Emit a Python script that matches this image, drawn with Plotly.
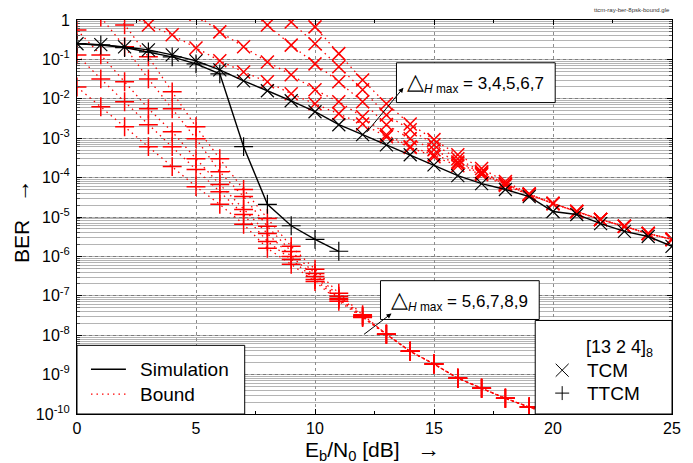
import plotly.graph_objects as go

# ---------------------------------------------------------------- data
# Eb/N0 grid in dB
snr_all = list(range(0, 26))

# simulated BER (black, solid)
tcm_sim = [0.25, 0.237, 0.207, 0.174, 0.13, 0.092, 0.054, 0.0286, 0.016, 0.0089,
           0.0047, 0.0022, 0.00123, 0.00068, 0.00038, 0.00021, 0.000112, 7.0e-5,
           5.0e-5, 3.3e-5, 1.38e-5, 1.16e-5, 6.8e-6, 4.3e-6, 3.2e-6, 1.8e-6]
ttcm_sim_snr = list(range(0, 12))
ttcm_sim = [0.25, 0.233, 0.2, 0.155, 0.116, 0.077, 0.043, 6.1e-4, 2.1e-5, 6.0e-6,
            2.7e-6, 1.35e-6]

# union bounds for TCM, Delta_H max = 3..7 (red, dotted, x markers)
tcm_b3_snr = list(range(2, 26))
tcm_b3 = [1.6, 0.75, 0.42, 0.195, 0.092, 0.048, 0.027, 0.0134, 0.0075, 0.0042,
          0.0023, 0.00109, 0.00058, 0.00034, 0.0002, 1.19e-4, 6.3e-5, 3.7e-5,
          2.2e-5, 1.38e-5, 8.6e-6, 5.8e-6, 3.8e-6, 2.7e-6]
tcm_b4_snr = list(range(5, 26))
tcm_b4 = [1.4, 0.5, 0.21, 0.086, 0.041, 0.0169, 0.0084, 0.0035, 0.00123, 0.00061,
          0.00038, 0.00023, 1.26e-4, 6.7e-5, 3.7e-5, 2.2e-5, 1.38e-5, 8.6e-6,
          5.8e-6, 3.8e-6, 2.7e-6]
tcm_b5_snr = list(range(7, 26))
tcm_b5 = [2.1, 0.75, 0.23, 0.077, 0.027, 0.0084, 0.0022, 0.00097, 0.00051, 0.00025,
          1.34e-4, 6.7e-5, 3.7e-5, 2.2e-5, 1.38e-5, 8.6e-6, 5.8e-6, 3.8e-6, 2.7e-6]
tcm_b6_snr = list(range(8, 26))
tcm_b6 = [2.9, 0.89, 0.25, 0.065, 0.0169, 0.0039, 0.00164, 0.00068, 0.0003, 1.4e-4,
          7.0e-5, 3.8e-5, 2.2e-5, 1.38e-5, 8.6e-6, 5.8e-6, 3.8e-6, 2.7e-6]
tcm_b7_snr = list(range(9, 26))
tcm_b7 = [2.9, 0.67, 0.14, 0.03, 0.0075, 0.0023, 0.00092, 0.00038, 1.7e-4, 7.9e-5,
          3.9e-5, 2.2e-5, 1.38e-5, 8.6e-6, 5.8e-6, 3.8e-6, 2.7e-6]

# union bounds for TTCM, Delta_H max = 5..9 (red, dotted, + markers)
ttcm_b5_snr = list(range(0, 21))
ttcm_b5 = [0.02, 0.0063, 0.00195, 0.00061, 0.00019, 5.9e-5, 2.1e-5, 6.5e-6, 1.6e-6,
           6.3e-7, 2.3e-7, 7.3e-8, 2.8e-8, 1.06e-8, 3.9e-9, 1.85e-9, 8.1e-10,
           4.5e-10, 2.5e-10, 1.5e-10, 9.4e-11]
ttcm_b6_snr = list(range(0, 21))
ttcm_b6 = [0.13, 0.032, 0.0084, 0.0022, 0.00061, 0.00016, 4.4e-5, 1.16e-5, 2.4e-6,
           8.4e-7, 2.6e-7, 8.1e-8, 2.9e-8, 1.06e-8, 3.9e-9, 1.85e-9, 8.1e-10,
           4.5e-10, 2.5e-10, 1.5e-10, 9.4e-11]
ttcm_b7_snr = list(range(0, 21))
ttcm_b7 = [0.56, 0.13, 0.027, 0.0056, 0.00146, 0.0003, 6.7e-5, 1.55e-5, 3.8e-6,
           1.0e-6, 3.1e-7, 8.6e-8, 3.0e-8, 1.06e-8, 3.9e-9, 1.85e-9, 8.1e-10,
           4.5e-10, 2.5e-10, 1.5e-10, 9.4e-11]
ttcm_b8_snr = list(range(1, 21))
ttcm_b8 = [1.19, 0.21, 0.032, 0.0056, 0.00097, 0.00014, 3.3e-5, 5.8e-6, 1.34e-6,
           3.7e-7, 9.7e-8, 3.1e-8, 1.06e-8, 3.9e-9, 1.85e-9, 8.1e-10, 4.5e-10,
           2.5e-10, 1.5e-10, 9.4e-11]
ttcm_b9_snr = list(range(1, 21))
ttcm_b9 = [5.1, 0.75, 0.116, 0.015, 0.00195, 0.0003, 5.0e-5, 9.2e-6, 1.8e-6, 4.7e-7,
           1.16e-7, 3.3e-8, 1.06e-8, 3.9e-9, 1.85e-9, 8.1e-10, 4.5e-10, 2.5e-10,
           1.5e-10, 9.4e-11]

# axis ticks
x_ticks = [0, 5, 10, 15, 20, 25]
y_exponents = list(range(-10, 1))
y_ticks = [10.0 ** e for e in y_exponents]
y_ticktext = ["1" if e == 0 else "10<sup>%d</sup>" % e for e in y_exponents]

# ---------------------------------------------------------------- figure
W, H = 693, 463
ML, MR, MT, MB = 77, 20, 18, 49
PW, PH = W - ML - MR, H - MT - MB
FONT = "Liberation Sans, Arial, Helvetica, sans-serif"
RED = "#ff0000"


def px(x):
    return (x - ML) / PW


def py(y):
    return (H - MB - y) / PH


fig = go.Figure()

red_line = dict(color=RED, width=1.3, dash="1.5px,4px")
bounds_tcm = [(tcm_b3_snr, tcm_b3), (tcm_b4_snr, tcm_b4), (tcm_b5_snr, tcm_b5),
              (tcm_b6_snr, tcm_b6), (tcm_b7_snr, tcm_b7)]
bounds_ttcm = [(ttcm_b5_snr, ttcm_b5), (ttcm_b6_snr, ttcm_b6), (ttcm_b7_snr, ttcm_b7),
               (ttcm_b8_snr, ttcm_b8), (ttcm_b9_snr, ttcm_b9)]

for snr, ber in bounds_ttcm:
    fig.add_trace(go.Scatter(
        x=snr, y=ber, mode="lines+markers", line=red_line,
        marker=dict(symbol="cross-thin", size=13.5, color=RED,
                    line=dict(color=RED, width=1.5))))
for snr, ber in bounds_tcm:
    fig.add_trace(go.Scatter(
        x=snr, y=ber, mode="lines+markers", line=red_line,
        marker=dict(symbol="x-thin", size=13, color=RED,
                    line=dict(color=RED, width=1.5))))

fig.add_trace(go.Scatter(
    x=snr_all, y=tcm_sim, mode="lines+markers",
    line=dict(color="black", width=1.4),
    marker=dict(symbol="x-thin", size=13, color="black",
                line=dict(color="black", width=1.2))))
fig.add_trace(go.Scatter(
    x=ttcm_sim_snr, y=ttcm_sim, mode="lines+markers",
    line=dict(color="black", width=1.4),
    marker=dict(symbol="cross-thin", size=13.5, color="black",
                line=dict(color="black", width=1.2))))

fig.update_layout(
    width=W, height=H,
    margin=dict(l=ML, r=MR, t=MT, b=MB),
    paper_bgcolor="white", plot_bgcolor="white",
    showlegend=False,
    font=dict(family=FONT, color="black"),
)

fig.update_xaxes(
    range=[0, 25], tickmode="array", tickvals=x_ticks,
    ticktext=[str(v) for v in x_ticks],
    tickfont=dict(size=16, family=FONT, color="black"),
    showline=True, linecolor="black", linewidth=1, mirror="ticks",
    ticks="inside", ticklen=5, tickcolor="black", tickwidth=1,
    ticklabelstandoff=0,
    showgrid=True, gridcolor="#8c8c8c", griddash="dot", gridwidth=1,
    zeroline=False,
    minor=dict(dtick=2.5, tick0=0, ticks="inside", ticklen=3,
               tickcolor="black", showgrid=False),
)
fig.update_yaxes(
    type="log", range=[-10, 0], tickmode="array", tickvals=y_ticks,
    ticktext=y_ticktext,
    tickfont=dict(size=16, family=FONT, color="black"),
    showline=True, linecolor="black", linewidth=1, mirror="ticks",
    ticks="inside", ticklen=5, tickcolor="black", tickwidth=1,
    ticklabelstandoff=3,
    showgrid=True, gridcolor="#7c7c7c", griddash="dot", gridwidth=1,
    zeroline=False,
    minor=dict(dtick="D1", ticks="inside", ticklen=3, tickcolor="#555",
               showgrid=True, gridcolor="#b4b4b4", gridwidth=1.4,
               griddash="solid"),
)

shapes = []
annotations = []
ARROW = "<span style='font-size:23px'>\u2192</span>"

# axis titles
annotations.append(dict(
    x=px(21), y=py(220), xref="paper", yref="paper", showarrow=False,
    text="BER\u00a0\u00a0\u00a0" + ARROW, textangle=-90,
    font=dict(size=21, family=FONT, color="black"),
    xanchor="center", yanchor="middle"))
annotations.append(dict(
    x=px(373), y=py(450), xref="paper", yref="paper", showarrow=False,
    text="E<sub>b</sub>/N<sub>0</sub> [dB]\u00a0\u00a0\u00a0" + ARROW,
    font=dict(size=21, family=FONT, color="black"),
    xanchor="center", yanchor="middle"))

# file tag
annotations.append(dict(
    x=px(673), y=py(8), xref="paper", yref="paper", showarrow=False,
    text="ttcm-ray-ber-8psk-bound.gle", font=dict(size=6, family=FONT, color="#333"),
    xanchor="right", yanchor="middle"))


def box(x0, y0, x1, y1):
    shapes.append(dict(type="rect", xref="paper", yref="paper",
                       x0=px(x0), x1=px(x1), y0=py(y1), y1=py(y0),
                       fillcolor="white", line=dict(color="black", width=1),
                       layer="above"))


def seg(x0, y0, x1, y1, color="black", width=1, dash="solid"):
    shapes.append(dict(type="line", xref="paper", yref="paper",
                       x0=px(x0), x1=px(x1), y0=py(y0), y1=py(y1),
                       line=dict(color=color, width=width, dash=dash),
                       layer="above"))


def label(x, y, text, size, anchor="left"):
    annotations.append(dict(
        x=px(x), y=py(y), xref="paper", yref="paper", showarrow=False,
        text=text, font=dict(size=size, family=FONT, color="black"),
        xanchor=anchor, yanchor="middle"))


def arrow(hx, hy, tx, ty):
    annotations.append(dict(
        x=px(hx), y=py(hy), xref="paper", yref="paper", text="",
        showarrow=True, ax=tx - hx, ay=ty - hy, arrowhead=2, arrowsize=1,
        arrowwidth=1, arrowcolor="black", standoff=0, startstandoff=0))


delta = "<span style='font-size:22px'>\u25b3</span><sub><i>H</i> max</sub>"

# Delta_H max call-outs
box(397, 61, 556, 101)
label(476.5, 81, delta + " = 3,4,5,6,7", 17, "center")
arrow(404, 86, 366, 132)

box(381, 280, 540, 319)
label(460.5, 299.5, delta + " = 5,6,7,8,9", 17, "center")
arrow(392, 313, 363, 335)

# line-style key
box(77, 345, 245, 414)
seg(91, 369, 126, 369, "black", 1.3)
label(138, 369, "Simulation", 19)
seg(91, 394, 126, 394, RED, 1.3, "1.5px,4px")
label(138, 394, "Bound", 19)

# code / scheme key
box(536, 320, 673, 414)
label(585, 348, "[13 2 4]<sub>8</sub>", 18)
seg(556.5, 363.5, 569.5, 376.5)
seg(556.5, 376.5, 569.5, 363.5)
label(586, 370, "TCM", 19)
seg(556, 393, 570, 393)
seg(563, 386, 563, 400)
label(586, 393, "TTCM", 19)

fig.update_layout(shapes=shapes, annotations=annotations)

fig.write_html("out.html")
